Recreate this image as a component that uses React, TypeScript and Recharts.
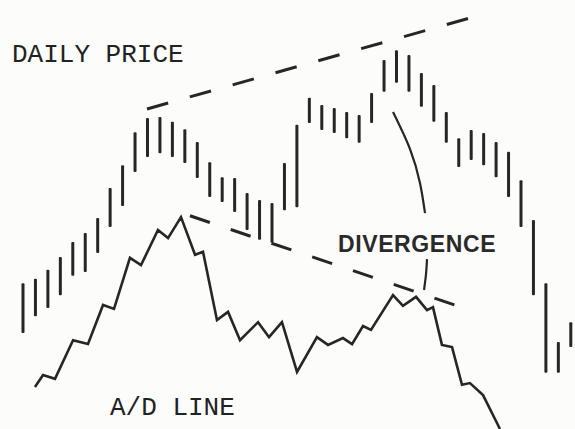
import { ComposedChart, Bar, Line, XAxis, YAxis, ReferenceLine } from 'recharts';

// daily price bars (high / low), one per session
const priceHigh = [
  34.0, 35.0, 37.1, 40.1, 43.6, 45.7, 49.2, 56.2, 61.5, 69.2,
  72.5, 72.7, 71.6, 69.9, 66.9, 62.2, 58.7, 58.5, 55.0, 53.4,
  52.7, 62.0, 70.9, 77.2, 75.5, 74.8, 73.9, 73.2, 78.3, 86.0,
  88.3, 87.2, 83.0, 80.2, 73.9, 67.8, 69.7, 69.0, 66.9, 64.6,
  58.0, 48.7, 34.0, 20.3, 24.9,
];
const priceLow = [
  22.4, 26.3, 28.2, 31.2, 35.7, 36.6, 41.0, 47.1, 52.0, 59.9,
  63.4, 64.3, 63.4, 62.0, 58.5, 54.1, 52.9, 50.6, 46.4, 44.1,
  43.4, 51.0, 51.7, 71.3, 69.7, 69.0, 67.8, 66.7, 71.3, 78.6,
  80.7, 78.6, 75.1, 71.6, 66.7, 61.1, 62.7, 61.5, 58.7, 54.1,
  47.1, 31.2, 13.1, 13.1, 19.1,
];

// advance/decline line
const adDay = [
  0.96, 1.61, 2.57, 4.02, 5.22, 6.43, 7.31, 8.59, 9.48, 10.84,
  11.65, 12.69, 13.82, 14.46, 15.58, 16.47, 17.43, 18.88, 19.76, 20.8,
  22.01, 23.61, 24.5, 25.7, 26.43, 27.31, 27.95, 29.72, 30.52, 31.57,
  32.45, 32.93, 33.65, 34.46, 35.26, 35.9, 36.95, 38.07, 38.31,
];
const adValue = [
  9.8, 12.6, 11.7, 20.7, 19.8, 28.9, 28.0, 39.9, 38.2, 46.4,
  44.5, 49.4, 40.6, 41.3, 25.4, 27.3, 20.7, 24.9, 21.4, 24.9,
  13.3, 21.4, 19.6, 21.2, 19.8, 24.0, 23.1, 31.2, 28.7, 30.8,
  27.7, 28.4, 19.6, 19.1, 10.3, 10.7, 7.9, 1.4, 0,
];

// annotation: rising price highs vs falling A/D peaks
const priceTrend = [{ x: 9.96, y: 74.6 }, { x: 35.9, y: 95.8 }];
const adTrend = [{ x: 13.41, y: 49.7 }, { x: 34.7, y: 28.9 }];
const arcUpper = [
  { day: 29.72, v: 73.9 }, { day: 31.08, v: 65.3 }, { day: 31.89, v: 57.3 }, { day: 32.29, v: 50.3 },
];
const arcLower = [
  { day: 32.45, v: 39.6 }, { day: 32.37, v: 36.1 }, { day: 32.21, v: 32.4 },
];

const priceData = priceHigh.map((h, i) => ({ day: i, range: [priceLow[i], h] }));
const adData = adDay.map((d, i) => ({ day: d, ad: adValue[i] }));

const INK = '#262626';
const W = 575;
const H = 429;

// thin vertical stroke centred on the slot recharts gives the bar
const PriceStick = (props: any) => {
  const { x, y, width, height } = props;
  if (x == null || y == null) return null;
  const cx = x + width / 2;
  return <rect x={cx - 1.5} y={y} width={3} height={Math.abs(height)} rx={1} fill={INK} />;
};

export default function App() {
  return (
    <div style={{ position: 'relative', width: W, height: H, background: '#fcfcfb' }}>
      <style>{'body{margin:0}'}</style>
      <ComposedChart width={W} height={H} data={priceData} margin={{ top: 0, right: 0, left: 0, bottom: 0 }}>
        <XAxis type="number" dataKey="day" domain={[-1.847, 44.337]} allowDataOverflow hide />
        <YAxis yAxisId="price" domain={[0, 100]} allowDataOverflow hide />
        <YAxis yAxisId="ad" domain={[0, 100]} allowDataOverflow hide />
        <Bar yAxisId="price" dataKey="range" fill={INK} barSize={3} shape={PriceStick} isAnimationActive={false} />
        <Line
          yAxisId="ad"
          data={adData}
          dataKey="ad"
          type="linear"
          stroke={INK}
          strokeWidth={2.6}
          dot={false}
          activeDot={false}
          isAnimationActive={false}
        />
        <Line yAxisId="price" data={arcUpper} dataKey="v" type="natural" stroke={INK} strokeWidth={2.2} dot={false} activeDot={false} isAnimationActive={false} />
        <Line yAxisId="price" data={arcLower} dataKey="v" type="natural" stroke={INK} strokeWidth={2.2} dot={false} activeDot={false} isAnimationActive={false} />
        <ReferenceLine yAxisId="price" segment={priceTrend} stroke={INK} strokeWidth={3} strokeDasharray="22 22.5" ifOverflow="visible" />
        <ReferenceLine yAxisId="ad" segment={adTrend} stroke={INK} strokeWidth={3} strokeDasharray="21 22" ifOverflow="visible" />
      </ComposedChart>
      <svg width={W} height={H} style={{ position: 'absolute', left: 0, top: 0, pointerEvents: 'none' }}>
        <text x={12} y={62} fontFamily="'Liberation Mono', monospace" fontSize={26} fill="#222">DAILY PRICE</text>
        <text x={110} y={415} fontFamily="'Liberation Mono', monospace" fontSize={26} fill="#222">A/D LINE</text>
        <text x={338} y={252} fontFamily="'Liberation Sans', sans-serif" fontSize={23} fontWeight="bold" letterSpacing={0.6} fill="#2a2a2a">DIVERGENCE</text>
      </svg>
    </div>
  );
}
